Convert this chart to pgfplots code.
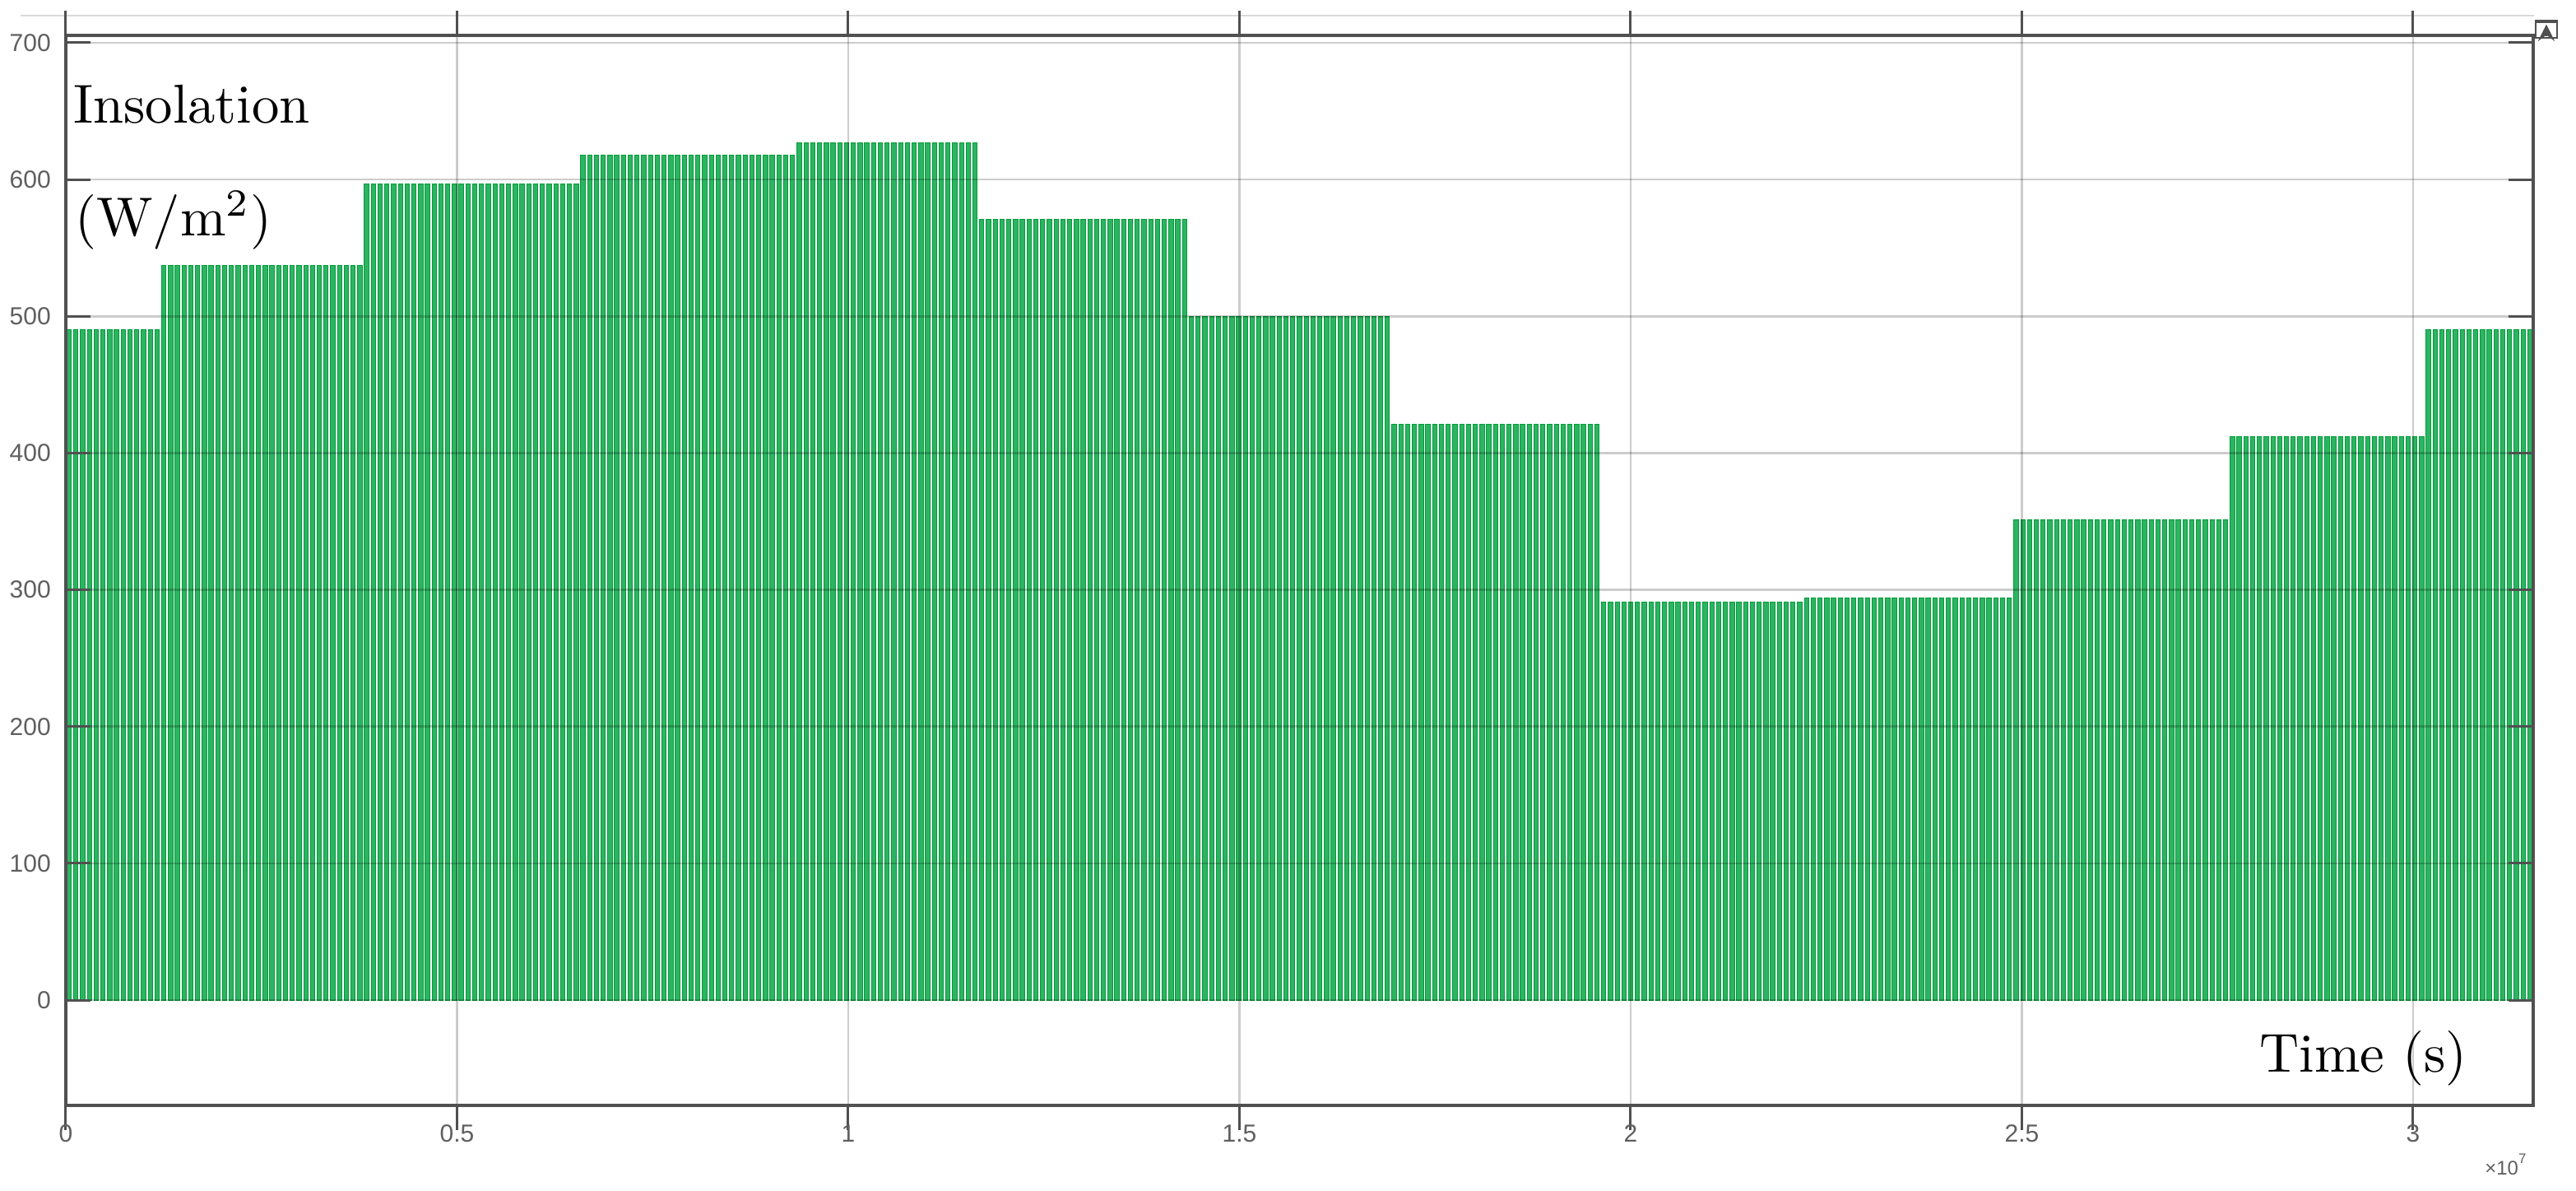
\documentclass[border=0pt]{standalone}
\usepackage{fontspec}
\newfontfamily\tickfont{Liberation Sans}
\usepackage{pgfplots}
\usepackage{pgfplotstable}
\pgfplotsset{compat=1.18}

\definecolor{sigfill}{RGB}{45,180,98}
\definecolor{sigedge}{RGB}{0,156,56}
\definecolor{framegray}{RGB}{80,80,80}
\definecolor{labelgray}{RGB}{95,95,95}

% day of year, insolation level (W/m^2) of that day's daylight pulse
\pgfplotstableread[row sep=\\]{
d v\\
0 490\\ 1 490\\ 2 490\\ 3 490\\ 4 490\\ 5 490\\ 6 490\\ 7 490\\ 8 490\\ 9 490\\
10 490\\ 11 490\\ 12 490\\ 13 490\\
14 537\\ 15 537\\ 16 537\\ 17 537\\ 18 537\\ 19 537\\ 20 537\\ 21 537\\ 22 537\\ 23 537\\
24 537\\ 25 537\\ 26 537\\ 27 537\\ 28 537\\ 29 537\\ 30 537\\ 31 537\\ 32 537\\ 33 537\\
34 537\\ 35 537\\ 36 537\\ 37 537\\ 38 537\\ 39 537\\ 40 537\\ 41 537\\ 42 537\\ 43 537\\
44 597\\ 45 597\\ 46 597\\ 47 597\\ 48 597\\ 49 597\\ 50 597\\ 51 597\\ 52 597\\ 53 597\\
54 597\\ 55 597\\ 56 597\\ 57 597\\ 58 597\\ 59 597\\ 60 597\\ 61 597\\ 62 597\\ 63 597\\
64 597\\ 65 597\\ 66 597\\ 67 597\\ 68 597\\ 69 597\\ 70 597\\ 71 597\\ 72 597\\ 73 597\\
74 597\\ 75 597\\
76 618\\ 77 618\\ 78 618\\ 79 618\\ 80 618\\ 81 618\\ 82 618\\ 83 618\\ 84 618\\ 85 618\\
86 618\\ 87 618\\ 88 618\\ 89 618\\ 90 618\\ 91 618\\ 92 618\\ 93 618\\ 94 618\\ 95 618\\
96 618\\ 97 618\\ 98 618\\ 99 618\\ 100 618\\ 101 618\\ 102 618\\ 103 618\\ 104 618\\ 105 618\\
106 618\\ 107 618\\
108 627\\ 109 627\\ 110 627\\ 111 627\\ 112 627\\ 113 627\\ 114 627\\ 115 627\\ 116 627\\ 117 627\\
118 627\\ 119 627\\ 120 627\\ 121 627\\ 122 627\\ 123 627\\ 124 627\\ 125 627\\ 126 627\\ 127 627\\
128 627\\ 129 627\\ 130 627\\ 131 627\\ 132 627\\ 133 627\\ 134 627\\
135 571\\ 136 571\\ 137 571\\ 138 571\\ 139 571\\ 140 571\\ 141 571\\ 142 571\\ 143 571\\ 144 571\\
145 571\\ 146 571\\ 147 571\\ 148 571\\ 149 571\\ 150 571\\ 151 571\\ 152 571\\ 153 571\\ 154 571\\
155 571\\ 156 571\\ 157 571\\ 158 571\\ 159 571\\ 160 571\\ 161 571\\ 162 571\\ 163 571\\ 164 571\\
165 571\\
166 500\\ 167 500\\ 168 500\\ 169 500\\ 170 500\\ 171 500\\ 172 500\\ 173 500\\ 174 500\\ 175 500\\
176 500\\ 177 500\\ 178 500\\ 179 500\\ 180 500\\ 181 500\\ 182 500\\ 183 500\\ 184 500\\ 185 500\\
186 500\\ 187 500\\ 188 500\\ 189 500\\ 190 500\\ 191 500\\ 192 500\\ 193 500\\ 194 500\\ 195 500\\
196 421\\ 197 421\\ 198 421\\ 199 421\\ 200 421\\ 201 421\\ 202 421\\ 203 421\\ 204 421\\ 205 421\\
206 421\\ 207 421\\ 208 421\\ 209 421\\ 210 421\\ 211 421\\ 212 421\\ 213 421\\ 214 421\\ 215 421\\
216 421\\ 217 421\\ 218 421\\ 219 421\\ 220 421\\ 221 421\\ 222 421\\ 223 421\\ 224 421\\ 225 421\\
226 421\\
227 291\\ 228 291\\ 229 291\\ 230 291\\ 231 291\\ 232 291\\ 233 291\\ 234 291\\ 235 291\\ 236 291\\
237 291\\ 238 291\\ 239 291\\ 240 291\\ 241 291\\ 242 291\\ 243 291\\ 244 291\\ 245 291\\ 246 291\\
247 291\\ 248 291\\ 249 291\\ 250 291\\ 251 291\\ 252 291\\ 253 291\\ 254 291\\ 255 291\\ 256 291\\
257 294\\ 258 294\\ 259 294\\ 260 294\\ 261 294\\ 262 294\\ 263 294\\ 264 294\\ 265 294\\ 266 294\\
267 294\\ 268 294\\ 269 294\\ 270 294\\ 271 294\\ 272 294\\ 273 294\\ 274 294\\ 275 294\\ 276 294\\
277 294\\ 278 294\\ 279 294\\ 280 294\\ 281 294\\ 282 294\\ 283 294\\ 284 294\\ 285 294\\ 286 294\\
287 294\\
288 351\\ 289 351\\ 290 351\\ 291 351\\ 292 351\\ 293 351\\ 294 351\\ 295 351\\ 296 351\\ 297 351\\
298 351\\ 299 351\\ 300 351\\ 301 351\\ 302 351\\ 303 351\\ 304 351\\ 305 351\\ 306 351\\ 307 351\\
308 351\\ 309 351\\ 310 351\\ 311 351\\ 312 351\\ 313 351\\ 314 351\\ 315 351\\ 316 351\\ 317 351\\
318 351\\ 319 351\\
320 412\\ 321 412\\ 322 412\\ 323 412\\ 324 412\\ 325 412\\ 326 412\\ 327 412\\ 328 412\\ 329 412\\
330 412\\ 331 412\\ 332 412\\ 333 412\\ 334 412\\ 335 412\\ 336 412\\ 337 412\\ 338 412\\ 339 412\\
340 412\\ 341 412\\ 342 412\\ 343 412\\ 344 412\\ 345 412\\ 346 412\\ 347 412\\ 348 412\\
349 490\\ 350 490\\ 351 490\\ 352 490\\ 353 490\\ 354 490\\ 355 490\\ 356 490\\ 357 490\\ 358 490\\
359 490\\ 360 490\\ 361 490\\ 362 490\\ 363 490\\ 364 490\\
}\insol

\begin{document}
\begin{tikzpicture}
\useasboundingbox (0,0) rectangle (469.65pt,217.05pt);
% faint window line and expand icon of the scope
\draw[black!15, line width=0.4pt] (3.75pt,214.2pt) -- (462pt,214.2pt);
\draw[framegray, line width=0.4pt] (462.3pt,210.15pt) rectangle (466.2pt,213.3pt);
\draw[framegray, line width=0.6pt] (462.3pt,213.1pt) -- (466.2pt,213.1pt);
\draw[framegray, line width=0.35pt, -stealth] (464.25pt,210.5pt) -- (464.25pt,212.6pt);

\begin{axis}[
  at={(12pt,15.6pt)}, anchor=south west,
  scale only axis, width=449.85pt, height=195pt,
  xmin=0, xmax=3.1536, ymin=-77, ymax=705.4,
  xtick={0,0.5,1,1.5,2,2.5,3},
  xticklabels={0,0.5,1,1.5,2,2.5,3},
  ytick={0,100,200,300,400,500,600,700},
  grid=major,
  major grid style={black, opacity=0.2, line width=0.4pt},
  tick align=inside, major tick length=4.5pt,
  tick style={framegray, line width=0.45pt},
  axis line style={framegray, line width=0.5pt},
  tick label style={font=\tickfont\fontsize{4.5}{5}\selectfont, text=labelgray},
  /pgf/number format/assume math mode=true,
  yticklabel style={anchor=east, xshift=0.8pt},
  xticklabel style={anchor=center, yshift=-0.6pt},
  axis on top,
  ybar, bar shift=0pt, bar width=0.0056,
]
\addplot[fill=sigfill, draw=sigedge, line width=0.15pt]
  table[x expr=\thisrow{d}*0.00864+0.00432, y=v] {\insol};
\end{axis}

\node[anchor=base west, inner sep=0, font=\fontsize{10}{12}\selectfont]
  at (13.2pt,194.55pt) {Insolation};
\node[anchor=base west, inner sep=0, font=\fontsize{10}{12}\selectfont]
  at (13.5pt,174pt) {(W/m\textsuperscript{2})};
\node[anchor=base west, inner sep=0, font=\fontsize{10}{12}\selectfont]
  at (411.75pt,21.6pt) {Time (s)};
\node[inner sep=0, text=labelgray, font=\tickfont\fontsize{3.6}{4}\selectfont]
  at (457.05pt,4.8pt) {×10\textsuperscript{7}};
\end{tikzpicture}
\end{document}
